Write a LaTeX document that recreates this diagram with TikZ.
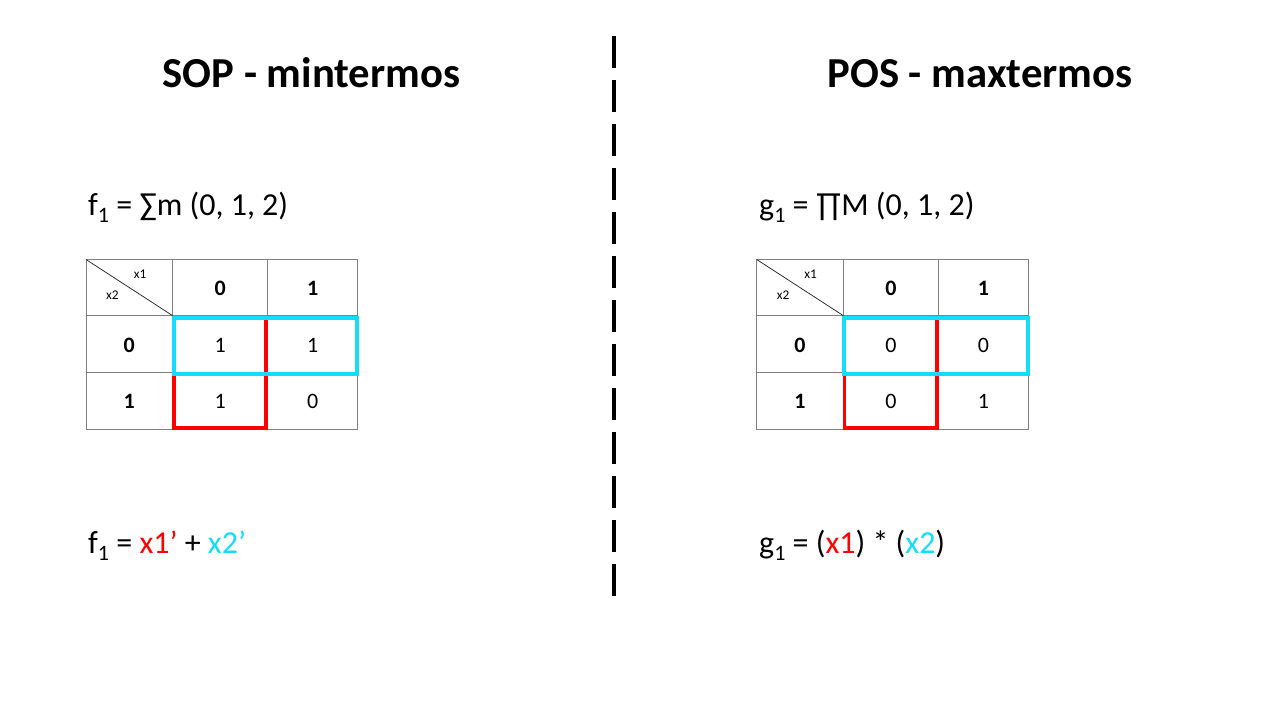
\documentclass[tikz,border=0pt]{standalone}
\usepackage{fontspec}
\setmainfont{Carlito}
\definecolor{kcyan}{HTML}{15DCFF}
\definecolor{kred}{HTML}{FF0000}
\definecolor{kgrid}{HTML}{808080}
\newcommand\mysub[1]{\raisebox{-7pt}{\fontsize{22}{24}\selectfont #1}}
\tikzset{
  title/.style={anchor=base, inner sep=0pt, font=\fontsize{42.7}{50}\selectfont\bfseries},
  formula/.style={anchor=base west, inner sep=0pt, font=\fontsize{32}{38}\selectfont},
  val/.style={inner sep=0pt, font=\fontsize{22}{26}\selectfont},
  hdr/.style={inner sep=0pt, font=\fontsize{22}{26}\selectfont\bfseries},
  small/.style={inner sep=0pt, font=\fontsize{13.3}{16}\selectfont},
  gridline/.style={draw=kgrid, line width=1pt},
  diag/.style={draw=black!80, line width=0.8pt},
  redbox/.style={draw=kred, line width=3.8pt},
  cyanbox/.style={draw=kcyan, line width=4pt},
  divider/.style={draw=black, line width=4pt, dash pattern=on 32pt off 12pt}
}
\newcommand\kmap[5]{%
  \coordinate (#1-tl) at (86,259.5);
  \coordinate (#1-br) at (357.7,429);
  \coordinate (#1-dg) at (172.7,315.7);
  \draw[gridline] (#1-tl) rectangle (#1-br);
  \draw[gridline] (172.7,259.5) -- (172.7,429);
  \draw[gridline] (267.7,259.5) -- (267.7,429);
  \draw[gridline] (86,315.7) -- (357.7,315.7);
  \draw[gridline] (86,372.7) -- (357.7,372.7);
  \draw[diag] (#1-tl) -- (#1-dg);
  \node[small] (#1-x1) at (140,274.5) {x1};
  \node[small] (#1-x2) at (112.3,295.5) {x2};
  \node[hdr] (#1-c0) at (220.2,288.5) {0};
  \node[hdr] (#1-c1) at (312.7,288.5) {1};
  \node[hdr] (#1-r0) at (129.3,345) {0};
  \node[hdr] (#1-r1) at (129.3,401.5) {1};
  \node[val] (#1-v11) at (220.2,345) {#2};
  \node[val] (#1-v12) at (312.7,345) {#3};
  \node[val] (#1-v21) at (220.2,401.5) {#4};
  \node[val] (#1-v22) at (312.7,401.5) {#5};
  \draw[redbox] (173.7,317.7) rectangle (266.3,428);
  \draw[cyanbox] (173.7,317.7) rectangle (357,373.7);
}
\begin{document}
\begin{tikzpicture}[x=1pt,y=-1pt]
\useasboundingbox (0,0) rectangle (1280,720);
\fill[white] (0,0) rectangle (1280,720);
% titles
\node[title] (t1) at (311.5,87) {SOP - mintermos};
\node[title] (t2) at (980,87) {POS - maxtermos};
% divider
\coordinate (dtop) at (614,36);
\coordinate (dbot) at (614,596);
\draw[divider] (dtop) -- (dbot);
% formulas
\node[formula] (f1) at (88,215) {f\mysub{1} = ∑m (0, 1, 2)};
\node[formula] (g1) at (759,215) {g\mysub{1} = ∏M (0, 1, 2)};
\node[formula] (f1r) at (88,553) {f\mysub{1} = {\color{kred}x1’} + {\color{kcyan}x2’}};
\node[formula] (g1r) at (759,553) {g\mysub{1} = ({\color{kred}x1}) * ({\color{kcyan}x2})};
% maps
\kmap{L}{1}{1}{1}{0}
\begin{scope}[xshift=670.7pt]
\kmap{R}{0}{0}{0}{1}
\end{scope}
\end{tikzpicture}
\end{document}
